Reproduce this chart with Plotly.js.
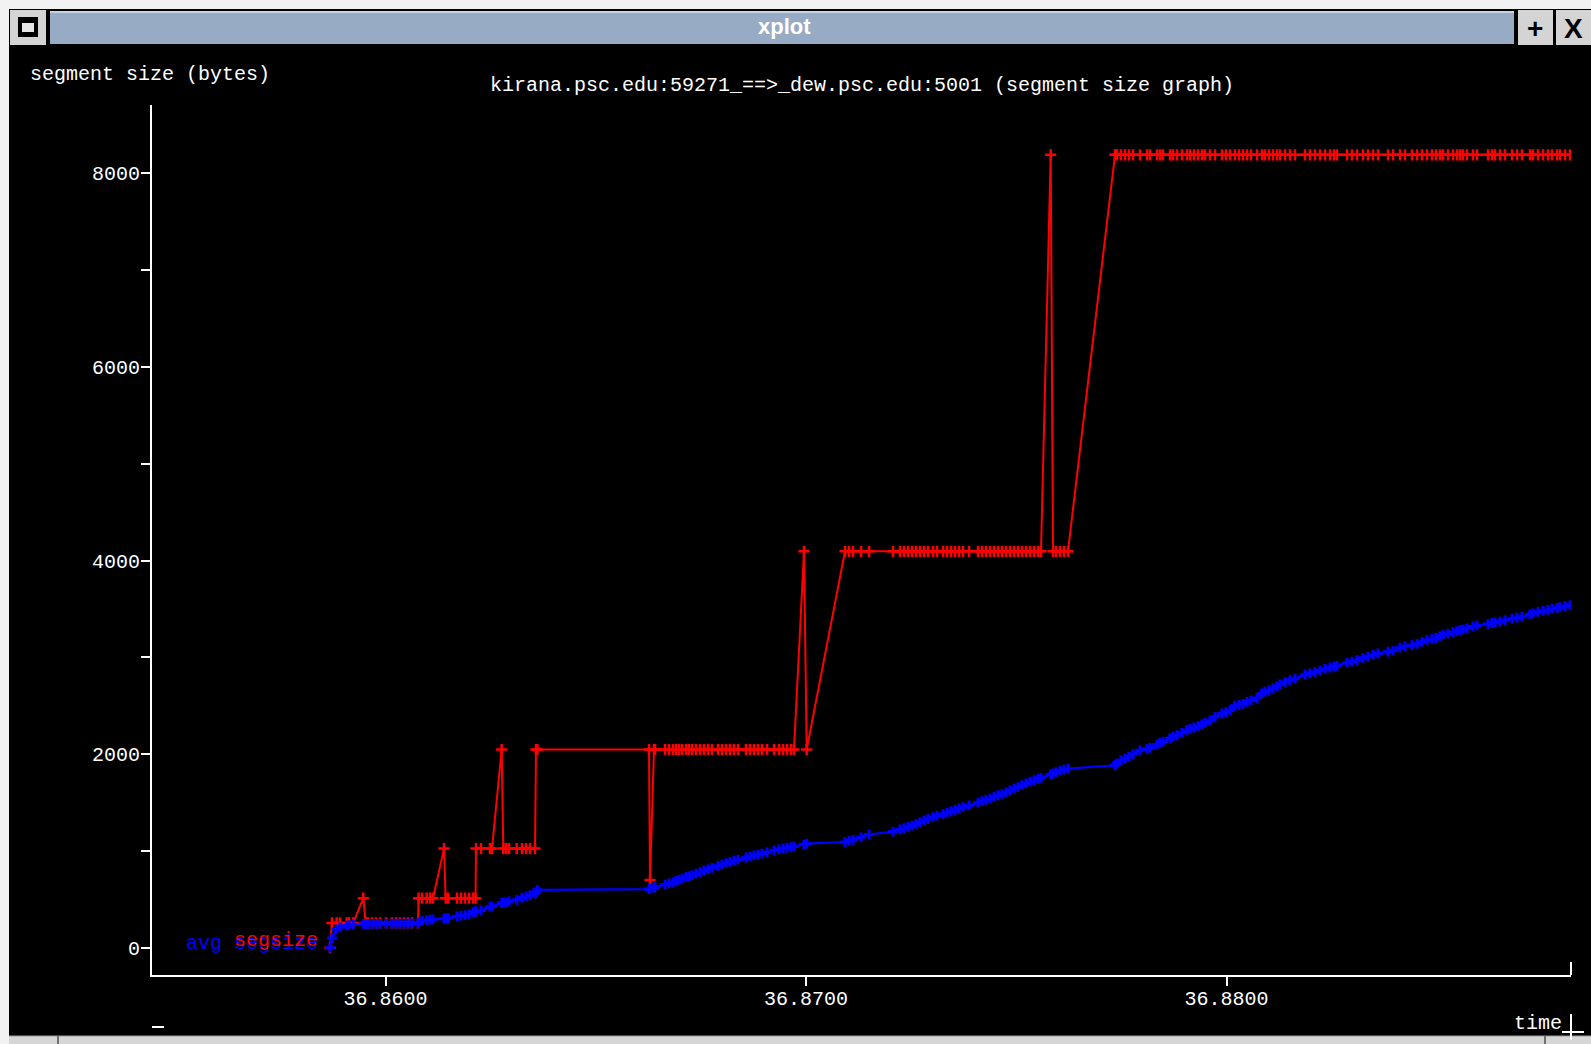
<!DOCTYPE html>
<html>
<head>
<meta charset="utf-8">
<script src="https://cdn.plot.ly/plotly-3.0.1.min.js"></script>
<style>
html,body{margin:0;padding:0;background:#000;overflow:hidden;}
#chart{width:1591px;height:1044px;}
</style>
</head>
<body>
<div id="chart"></div>
<script>
// ---- data (time in seconds, segment sizes in bytes) ----
const times = [
36.858678,36.858725,36.858837,36.858916,36.859075,36.859130,36.859232,36.859470,36.859527,36.859581,
36.859677,36.859772,36.859867,36.860010,36.860152,36.860247,36.860342,36.860438,36.860533,36.860628,
36.860771,36.860785,36.860866,36.860977,36.861056,36.861127,36.861389,36.861429,36.861491,36.861698,
36.861793,36.861888,36.861983,36.862078,36.862138,36.862150,36.862269,36.862483,36.862530,36.862761,
36.862799,36.862863,36.862935,36.863118,36.863244,36.863339,36.863434,36.863553,36.863577,36.863608,
36.866264,36.866288,36.866383,36.866407,36.866644,36.866740,36.866835,36.866906,36.866977,36.867049,
36.867144,36.867215,36.867287,36.867382,36.867477,36.867572,36.867667,36.867762,36.867905,36.868000,
36.868095,36.868190,36.868285,36.868381,36.868571,36.868666,36.868761,36.868856,36.868951,36.869070,
36.869237,36.869356,36.869451,36.869546,36.869641,36.869712,36.869950,36.870014,36.870925,36.871020,
36.871115,36.871306,36.871496,36.872067,36.872233,36.872328,36.872423,36.872518,36.872613,36.872709,
36.872804,36.872899,36.873018,36.873113,36.873256,36.873351,36.873446,36.873541,36.873636,36.873731,
36.873874,36.874088,36.874183,36.874278,36.874373,36.874469,36.874564,36.874659,36.874754,36.874849,
36.874944,36.875039,36.875134,36.875229,36.875325,36.875420,36.875515,36.875586,36.875817,36.875872,
36.875943,36.876038,36.876133,36.876228,36.877346,36.877393,36.877488,36.877584,36.877679,36.877774,
36.877940,36.878107,36.878178,36.878345,36.878416,36.878487,36.878654,36.878725,36.878820,36.878939,
36.879058,36.879129,36.879224,36.879320,36.879415,36.879486,36.879605,36.879724,36.879890,36.879985,
36.880081,36.880199,36.880295,36.880390,36.880485,36.880580,36.880723,36.880842,36.880913,36.881008,
36.881103,36.881198,36.881270,36.881389,36.881507,36.881626,36.881864,36.881983,36.882102,36.882221,
36.882340,36.882459,36.882554,36.882625,36.882863,36.882982,36.883101,36.883243,36.883362,36.883481,
36.883600,36.883838,36.883957,36.884123,36.884242,36.884409,36.884528,36.884647,36.884765,36.884884,
36.884979,36.885075,36.885146,36.885265,36.885384,36.885479,36.885550,36.885622,36.885717,36.885859,
36.885955,36.886216,36.886311,36.886383,36.886501,36.886620,36.886787,36.886906,36.887025,36.887215,
36.887286,36.887405,36.887524,36.887643,36.887738,36.887857,36.887928,36.888047,36.888166
];
const segsize = [
0,256,256,256,256,256,256,512,256,256,
256,256,256,256,256,256,256,256,256,256,
256,512,512,512,512,512,1024,512,512,512,
512,512,512,512,512,1024,1024,1024,1024,2048,
1024,1024,1024,1024,1024,1024,1024,1024,2048,2048,
2048,700,2048,2048,2048,2048,2048,2048,2048,2048,
2048,2048,2048,2048,2048,2048,2048,2048,2048,2048,
2048,2048,2048,2048,2048,2048,2048,2048,2048,2048,
2048,2048,2048,2048,2048,2048,4096,2048,4096,4096,
4096,4096,4096,4096,4096,4096,4096,4096,4096,4096,
4096,4096,4096,4096,4096,4096,4096,4096,4096,4096,
4096,4096,4096,4096,4096,4096,4096,4096,4096,4096,
4096,4096,4096,4096,4096,4096,4096,4096,8192,4096,
4096,4096,4096,4096,8192,8192,8192,8192,8192,8192,
8192,8192,8192,8192,8192,8192,8192,8192,8192,8192,
8192,8192,8192,8192,8192,8192,8192,8192,8192,8192,
8192,8192,8192,8192,8192,8192,8192,8192,8192,8192,
8192,8192,8192,8192,8192,8192,8192,8192,8192,8192,
8192,8192,8192,8192,8192,8192,8192,8192,8192,8192,
8192,8192,8192,8192,8192,8192,8192,8192,8192,8192,
8192,8192,8192,8192,8192,8192,8192,8192,8192,8192,
8192,8192,8192,8192,8192,8192,8192,8192,8192,8192,
8192,8192,8192,8192,8192,8192,8192,8192,8192
];
const avgsize = [
0,100,190,211,228,233,241,246,246,246,
247,247,247,248,248,248,249,249,250,251,
252,262,278,286,290,293,300,302,306,325,
331,336,345,367,374,376,384,422,427,462,
465,469,478,495,518,530,540,560,575,598,
605,610,622,626,652,665,677,689,700,713,
729,739,750,766,780,795,810,825,846,859,
873,886,899,910,932,943,953,962,973,987,
1005,1017,1025,1033,1040,1046,1066,1075,1092,1105,
1115,1140,1170,1200,1222,1235,1248,1262,1280,1298,
1315,1330,1350,1365,1382,1395,1410,1425,1440,1452,
1470,1500,1515,1528,1540,1560,1575,1590,1605,1625,
1645,1660,1680,1698,1715,1730,1745,1755,1790,1800,
1815,1830,1840,1850,1885,1905,1935,1950,1975,2000,
2040,2055,2065,2100,2115,2130,2165,2180,2195,2220,
2250,2260,2275,2290,2310,2325,2345,2385,2420,2435,
2450,2500,2510,2520,2540,2555,2580,2630,2645,2660,
2680,2700,2720,2745,2765,2780,2820,2835,2850,2865,
2880,2895,2905,2912,2945,2955,2970,2995,3010,3025,
3040,3060,3070,3100,3115,3125,3140,3160,3180,3190,
3200,3220,3235,3245,3260,3270,3280,3290,3300,3320,
3330,3345,3355,3362,3370,3385,3400,3410,3420,3445,
3455,3470,3480,3490,3500,3512,3518,3528,3538
];
const xTickVals = [36.86, 36.87, 36.88];
const xTickText = ["36.8600", "36.8700", "36.8800"];
const yTickVals = [0, 1000, 2000, 3000, 4000, 5000, 6000, 7000, 8000];
const yTickText = ["0", "", "2000", "", "4000", "", "6000", "", "8000"];
const chartTitle = "kirana.psc.edu:59271_==>_dew.psc.edu:5001 (segment size graph)";
const yLabel = "segment size (bytes)";
const xLabel = "time";
const windowTitle = "xplot";
const seriesNames = ["segsize", "avg"];

// ---- layout helpers (pixel -> paper) ----
const W = 1591, H = 1044, L = 152, R = 1571, T = 105, B = 975;
const px = p => (p - L) / (R - L);
const py = p => (B - p) / (B - T);
const FONT = "'Liberation Mono', 'DejaVu Sans Mono', monospace";

function rect(x0, y0, x1, y1, fill, lineColor, lw) {
  return {type: 'rect', xref: 'paper', yref: 'paper', layer: 'above',
    x0: px(x0), x1: px(x1), y0: py(y0), y1: py(y1),
    fillcolor: fill, line: {width: lw || 0, color: lineColor || fill}};
}
function seg(x0, y0, x1, y1, color, w) {
  return {type: 'line', xref: 'paper', yref: 'paper', layer: 'above',
    x0: px(x0), x1: px(x1), y0: py(y0), y1: py(y1),
    line: {color: color, width: w}};
}
function label(x, y, text, color, size, xanchor, family, bold) {
  return {xref: 'paper', yref: 'paper', x: px(x), y: py(y), text: bold ? '<b>' + text + '</b>' : text,
    showarrow: false, xanchor: xanchor || 'left', yanchor: 'middle',
    font: {family: family || FONT, size: size, color: color}};
}

const shapes = [
  // window chrome
  rect(0, 0, W, 9, '#f2f2f2'),
  rect(0, 9, W, 46, '#000000'),
  rect(10, 10, 46, 45, '#d4d4d4'),
  rect(18, 17, 38, 37, '#000000'),
  rect(22, 23, 34, 32, '#e6e6e6'),
  rect(50, 11, 1514, 44, '#97acc4'),
  seg(50, 12, 1514, 12, '#c4d2e2', 2),
  rect(1518, 10, 1553, 45, '#d4d4d4'),
  rect(1556, 10, W, 45, '#d4d4d4'),
  rect(0, 0, 9, H, '#f2f2f2'),
  rect(9, 1036, W, H, '#d6d6d6'),
  seg(9, 1036, W, 1036, '#9a9a9a', 1),
  seg(58, 1036, 58, H, '#707070', 2),
  seg(1545, 1036, 1545, H, '#707070', 2),
  // xplot decorations
  seg(1571, 962, 1571, 975, '#ffffff', 2),
  seg(1571, 1014, 1571, 1040, '#ffffff', 2),
  seg(1562, 1032, 1584, 1032, '#ffffff', 2),
  seg(152, 1027, 164, 1027, '#ffffff', 2)
];

const annotations = [
  label(784, 26, windowTitle, '#ffffff', 22, 'center', "'Liberation Sans', Arial, sans-serif", true),
  label(1535, 28, '+', '#000000', 28, 'center', "'Liberation Sans', Arial, sans-serif", true),
  label(1573, 28, 'X', '#000000', 28, 'center', "'Liberation Sans', Arial, sans-serif", true),
  label(28, 75, yLabel, '#ffffff', 20, 'left'),
  label(1512, 1023, xLabel, '#ffffff', 20, 'left'),
  label(184, 943, seriesNames[1], '#0000ff', 20, 'left'),
  label(232, 943, seriesNames[0], '#0000ff', 20, 'left'),
  label(232, 940, seriesNames[0], '#ff0000', 20, 'left')
];

const traces = [
  {x: times, y: segsize, name: seriesNames[0], type: 'scatter', mode: 'lines+markers',
    line: {color: '#ff0000', width: 2},
    marker: {symbol: 'cross-thin', size: 8, color: '#ff0000', line: {color: '#ff0000', width: 2.5}},
    cliponaxis: true},
  {x: times, y: avgsize, name: seriesNames[1], type: 'scatter', mode: 'lines+markers',
    line: {color: '#0000ff', width: 2.2},
    marker: {symbol: 'cross-thin', size: 7, color: '#0000ff', line: {color: '#0000ff', width: 3}},
    cliponaxis: true}
];

const axisCommon = {
  showgrid: false, zeroline: false, showline: true, linecolor: '#ffffff', linewidth: 2,
  ticks: 'outside', ticklen: 9, tickwidth: 2, tickcolor: '#ffffff',
  tickfont: {family: FONT, size: 20, color: '#ffffff'}, tickmode: 'array', fixedrange: true
};

const layout = {
  width: W, height: H,
  margin: {l: L, r: W - R, t: T, b: H - B, pad: 0},
  paper_bgcolor: '#000000', plot_bgcolor: '#000000',
  showlegend: false,
  title: {text: chartTitle, x: 862 / W, xanchor: 'center', y: 1 - 84 / H, yanchor: 'middle',
    font: {family: FONT, size: 20, color: '#ffffff'}},
  xaxis: Object.assign({}, axisCommon, {range: [36.854445, 36.88819], tickvals: xTickVals, ticktext: xTickText, ticklabelstandoff: -5}),
  yaxis: Object.assign({}, axisCommon, {range: [-282, 8707], tickvals: yTickVals, ticktext: yTickText, ticklabelstandoff: -3}),
  shapes: shapes,
  annotations: annotations
};

Plotly.newPlot('chart', traces, layout, {staticPlot: true, displayModeBar: false});
</script>
</body>
</html>
